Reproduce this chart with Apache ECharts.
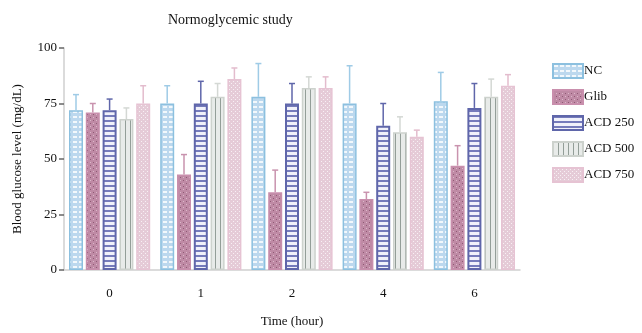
<!DOCTYPE html>
<html><head><meta charset="utf-8">
<script src="https://cdn.jsdelivr.net/npm/echarts@6/dist/echarts.min.js"></script>
<style>html,body{margin:0;padding:0;background:#fff}#c{width:642px;height:333px}</style>
</head><body><div id="c"></div>
<script>
const categories = ['0', '1', '2', '4', '6'];
const seriesNames = ['NC', 'Glib', 'ACD 250', 'ACD 500', 'ACD 750'];
const ncMean = [72, 75, 78, 75, 76];
const ncSd = [7, 8, 15, 17, 13];
const glibMean = [71, 43, 35, 32, 47];
const glibSd = [4, 9, 10, 3, 9];
const acd250Mean = [72, 75, 75, 65, 73];
const acd250Sd = [5, 10, 9, 10, 11];
const acd500Mean = [68, 78, 82, 62, 78];
const acd500Sd = [5, 6, 5, 7, 8];
const acd750Mean = [75, 86, 82, 60, 83];
const acd750Sd = [8, 5, 5, 3, 5];
const yTicks = [0, 25, 50, 75, 100];

const means = [ncMean, glibMean, acd250Mean, acd500Mean, acd750Mean];
const sds = [ncSd, glibSd, acd250Sd, acd500Sd, acd750Sd];

function tile(w, h, draw) {
  const c = document.createElement('canvas');
  c.width = w; c.height = h;
  const g = c.getContext('2d');
  draw(g);
  return { image: c, repeat: 'repeat' };
}
const patterns = [
  tile(6, 5, g => { g.fillStyle = '#bcd8ee'; g.fillRect(0,0,6,5); g.fillStyle = '#f2f8fc'; g.fillRect(1,1,4,2); }),
  tile(6, 6, g => { g.fillStyle = '#bf8aa5'; g.fillRect(0,0,6,6); g.fillStyle = '#dcb8ca'; g.fillRect(0,0,1,1); g.fillRect(3,3,1,1); g.fillStyle = '#8e5a74'; g.fillRect(3,0,1,1); g.fillRect(0,3,1,1); }),
  tile(4, 5, g => { g.fillStyle = '#f0f1fa'; g.fillRect(0,0,4,5); g.fillStyle = '#757bbb'; g.fillRect(0,0,4,2); }),
  tile(5, 4, g => { g.fillStyle = '#e8ebe9'; g.fillRect(0,0,5,4); g.fillStyle = '#939e98'; g.fillRect(0,0,1,4); }),
  tile(4, 4, g => { g.fillStyle = '#e5cbd7'; g.fillRect(0,0,4,4); g.fillStyle = '#f8f0f4'; g.fillRect(1,1,1,1); g.fillRect(3,3,1,1); })
];
const borders = ['#8cc0df', '#c98fad', '#5f66aa', '#cdd2cd', '#e6c3d3'];
const errColors = ['#9fcbe6', '#c993ae', '#5f66aa', '#d4d8d4', '#e3bccd'];

const barW = 14, gapPx = 2.8;
const serif = 'Liberation Serif';

const series = [];
seriesNames.forEach((n, i) => {
  series.push({
    name: n, type: 'bar', data: means[i], barWidth: barW, barGap: '20%',
    itemStyle: { color: patterns[i], borderColor: borders[i], borderWidth: i === 2 ? 2 : 1.5 },
    z: 2
  });
});
seriesNames.forEach((n, i) => {
  series.push({
    name: n + ' err', type: 'custom', z: 3,
    data: means[i].map((m, k) => [k, m, m + sds[i][k]]),
    renderItem: (params, api) => {
      const off = (i - 2) * (barW + gapPx);
      const p0 = api.coord([api.value(0), api.value(1)]);
      const p1 = api.coord([api.value(0), api.value(2)]);
      const x = p0[0] + off;
      const st = { stroke: errColors[i], lineWidth: 1.5 };
      return { type: 'group', children: [
        { type: 'line', shape: { x1: x, y1: p0[1], x2: x, y2: p1[1] }, style: st },
        { type: 'line', shape: { x1: x - 3, y1: p1[1], x2: x + 3, y2: p1[1] }, style: st }
      ]};
    }
  });
});

const chart = echarts.init(document.getElementById('c'), null, { renderer: 'canvas' });
chart.setOption({
  animation: false,
  backgroundColor: '#fff',
  title: { text: 'Normoglycemic study', left: 163, top: 8,
    textStyle: { fontFamily: serif, fontSize: 14, fontWeight: 'normal', color: '#111' } },
  grid: { left: 64, right: 122, top: 48, bottom: 61 },
  legend: {
    data: seriesNames, orient: 'vertical', left: 547, top: 58, icon: 'rect',
    itemWidth: 30, itemHeight: 14, itemGap: 10,
    textStyle: { fontFamily: serif, fontSize: 13, color: '#111', padding: [0,0,0,-4] }
  },
  xAxis: {
    type: 'category', data: categories,
    name: 'Time (hour)', nameLocation: 'middle', nameGap: 45,
    nameTextStyle: { fontFamily: serif, fontSize: 13, color: '#111' },
    axisLine: { lineStyle: { color: '#cfcfcf', width: 1.5 } },
    axisTick: { alignWithLabel: true, length: 4, lineStyle: { color: '#777' } },
    axisLabel: { fontFamily: serif, fontSize: 13, color: '#111', margin: 17 }
  },
  yAxis: {
    type: 'value', min: 0, max: 100, interval: 25,
    name: 'Blood glucose level (mg/dL)', nameLocation: 'middle', nameGap: 40, nameRotate: 90,
    nameTextStyle: { fontFamily: serif, fontSize: 13, color: '#111' },
    axisLine: { show: true, lineStyle: { color: '#cfcfcf', width: 1.5 } },
    axisTick: { show: true, length: 5, lineStyle: { color: '#666', width: 1.5 } },
    axisLabel: { fontFamily: serif, fontSize: 13, color: '#111', margin: 7,
      formatter: v => yTicks.includes(v) ? String(v) : '' },
    splitLine: { show: false }
  },
  series: series
});
</script></body></html>
